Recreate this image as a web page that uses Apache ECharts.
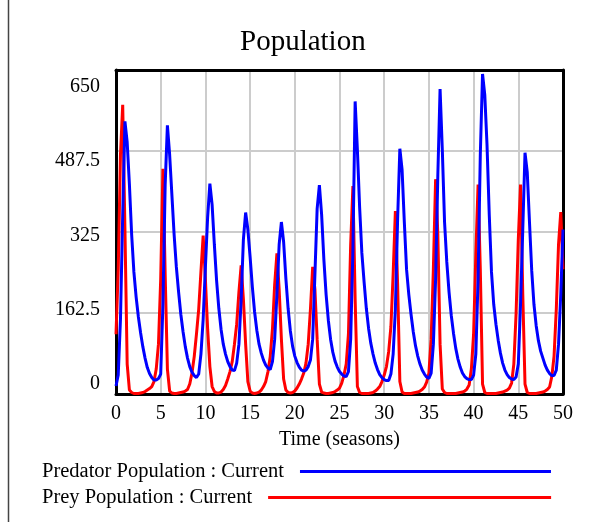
<!DOCTYPE html>
<html>
<head>
<meta charset="utf-8">
<script src="https://cdn.jsdelivr.net/npm/echarts@6/dist/echarts.min.js"></script>
<style>
  html, body { margin: 0; padding: 0; background: #ffffff; }
  #chart { width: 591px; height: 522px; }
</style>
</head>
<body>
<div id="chart"></div>
<script>
// Simulation save interval (seasons) and the saved values of both stocks.
const TIME_STEP = 0.25;

const predatorPopulation = [
  16, 38, 150, 360, 547, 505, 420, 320, 245, 195, 155, 123, 95, 72, 53, 41, 33, 28, 28, 31,
  40, 180, 420, 539, 480, 400, 320, 255, 205, 160, 125, 95, 72, 55, 44, 37, 33, 40, 80, 150,
  255, 355, 422, 380, 300, 228, 172, 130, 100, 80, 65, 55, 48, 47, 62, 100, 190, 310, 364, 330,
  275, 215, 165, 128, 100, 82, 68, 58, 52, 49, 65, 110, 200, 300, 345, 305, 232, 172, 127, 96,
  76, 63, 54, 48, 46, 48, 55, 68, 110, 240, 372, 419, 360, 270, 200, 148, 110, 84, 66, 54,
  45, 40, 36, 35, 45, 110, 290, 587, 490, 375, 283, 225, 172, 132, 102, 80, 62, 49, 39, 33,
  29, 27, 27, 40, 80, 170, 350, 492, 450, 345, 250, 200, 160, 125, 97, 76, 60, 48, 40, 34,
  31, 42, 100, 230, 440, 612, 490, 345, 265, 205, 158, 122, 92, 70, 54, 42, 35, 31, 29, 29,
  38, 80, 230, 480, 642, 600, 500, 360, 245, 180, 140, 108, 82, 62, 48, 39, 33, 30, 29, 34,
  60, 180, 330, 484, 445, 345, 248, 180, 137, 107, 86, 72, 58, 48, 41, 37, 37, 48, 100, 200,
  330
];

const preyPopulation = [
  120, 250, 480, 580, 330, 60, 8, 3, 1, 1, 1, 2, 3, 5, 8, 11, 15, 25, 50, 100,
  230, 452, 240, 50, 6, 2, 1, 1, 2, 3, 4, 6, 9, 20, 42, 75, 120, 170, 245, 318,
  230, 130, 55, 15, 5, 2, 2, 4, 9, 17, 30, 45, 65, 100, 140, 205, 258, 190, 100, 25,
  6, 2, 1, 2, 4, 8, 15, 25, 45, 75, 130, 220, 282, 210, 110, 30, 8, 3, 2, 3,
  6, 12, 20, 30, 42, 62, 100, 170, 255, 210, 110, 20, 4, 2, 1, 1, 2, 3, 5, 8,
  12, 22, 38, 60, 120, 300, 417, 190, 15, 3, 1, 1, 1, 1, 2, 3, 6, 10, 15, 25,
  38, 55, 85, 135, 240, 367, 220, 25, 4, 1, 1, 1, 1, 2, 3, 4, 6, 9, 14, 24,
  42, 110, 250, 431, 320, 100, 10, 3, 1, 1, 1, 1, 1, 2, 3, 4, 6, 10, 18, 50,
  120, 280, 420, 250, 20, 3, 1, 1, 1, 1, 1, 2, 3, 4, 6, 8, 12, 22, 60, 160,
  310, 420, 200, 20, 3, 1, 1, 1, 1, 2, 3, 4, 6, 9, 14, 35, 76, 170, 300, 365,
  250
];

const seriesNames = ['Predator Population : Current', 'Prey Population : Current'];
const yTickValues = [0, 162.5, 325, 487.5, 650];
const xTickInterval = 5;

const FONT = '"Liberation Serif", "Times New Roman", serif';

// Pair each saved value with its time stamp.
function withTime(values) {
  return values.map((v, i) => [i * TIME_STEP, v]);
}

const chart = echarts.init(document.getElementById('chart'), null, { renderer: 'canvas' });

const legendText = {
  fontFamily: FONT,
  fontSize: 20.5,
  color: '#000',
  padding: [0, 11, 0, 0]
};

const frameLine = { show: true, onZero: false, lineStyle: { color: '#000', width: 3 } };
const gridLine = { show: true, lineStyle: { color: '#cccccc', width: 2 } };

chart.setOption({
  backgroundColor: '#ffffff',
  animation: false,
  title: {
    text: 'Population',
    left: 240,
    top: 28,
    padding: 0,
    textStyle: { fontFamily: FONT, fontSize: 29, fontWeight: 'normal', color: '#000' }
  },
  legend: [
    {
      data: [seriesNames[0]],
      left: 42,
      top: 461,
      align: 'right',
      icon: 'rect',
      itemWidth: 251,
      itemHeight: 3,
      selectedMode: false,
      padding: 0,
      textStyle: legendText
    },
    {
      data: [seriesNames[1]],
      left: 42,
      top: 487,
      align: 'right',
      icon: 'rect',
      itemWidth: 283,
      itemHeight: 3,
      selectedMode: false,
      padding: 0,
      textStyle: legendText
    }
  ],
  graphic: [
    {
      type: 'line',
      shape: { x1: 8.5, y1: 0, x2: 8.5, y2: 522 },
      style: { stroke: '#444', lineWidth: 1.5 },
      silent: true
    }
  ],
  grid: {
    left: 116,
    top: 70,
    right: 28,
    bottom: 128,
    show: false
  },
  xAxis: [
    {
      type: 'value',
      min: 0,
      max: 50,
      interval: xTickInterval,
      name: 'Time (seasons)',
      nameLocation: 'middle',
      nameGap: 36,
      nameTextStyle: { fontFamily: FONT, fontSize: 20, color: '#000' },
      axisLine: frameLine,
      axisTick: { show: false },
      axisLabel: { fontFamily: FONT, fontSize: 20, color: '#000', margin: 10 },
      splitLine: gridLine
    },
    {
      type: 'value',
      position: 'top',
      min: 0,
      max: 50,
      axisLine: frameLine,
      axisTick: { show: false },
      axisLabel: { show: false },
      splitLine: { show: false }
    }
  ],
  yAxis: [
    {
      type: 'value',
      min: 0,
      max: 650,
      interval: 162.5,
      axisLine: frameLine,
      axisTick: { show: false },
      axisLabel: { show: false },
      splitLine: gridLine
    },
    {
      // Label-only scale: tick values sit slightly inside the plot frame.
      type: 'value',
      position: 'left',
      min: -21.9,
      max: 687.2,
      axisLine: { show: false },
      axisTick: { show: false },
      splitLine: { show: false },
      axisLabel: {
        customValues: yTickValues,
        fontFamily: FONT,
        fontSize: 20,
        color: '#000',
        margin: 16,
        formatter: v => String(v)
      }
    },
    {
      type: 'value',
      position: 'right',
      min: 0,
      max: 650,
      axisLine: frameLine,
      axisTick: { show: false },
      axisLabel: { show: false },
      splitLine: { show: false }
    }
  ],
  series: [
    {
      name: seriesNames[0],
      type: 'line',
      data: withTime(predatorPopulation),
      showSymbol: false,
      color: '#0000ff',
      lineStyle: { color: '#0000ff', width: 3 },
      z: 3
    },
    {
      name: seriesNames[1],
      type: 'line',
      data: withTime(preyPopulation),
      showSymbol: false,
      color: '#ff0000',
      lineStyle: { color: '#ff0000', width: 3 },
      z: 2
    }
  ]
});
</script>
</body>
</html>
